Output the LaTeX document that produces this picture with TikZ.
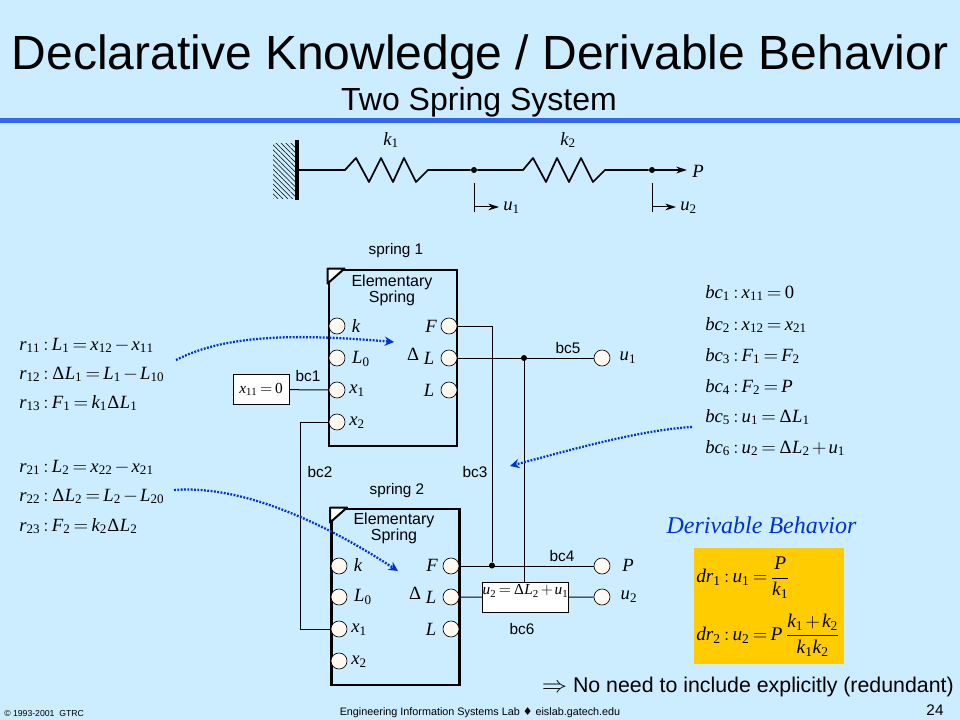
\documentclass[tikz,border=0pt]{standalone}
\usepackage{amsmath}
\usepackage{mathspec}
\setmainfont{Liberation Sans}
\setmathfont(Digits,Latin,Greek){Liberation Serif}
\newfontfamily\serifit{Liberation Serif}
\newfontfamily\symfont{DejaVu Sans}
\thickmuskip=3mu
\medmuskip=2mu
\usetikzlibrary{patterns.meta}
\usetikzlibrary{arrows.meta}
\usetikzlibrary{positioning}
\definecolor{slidebg}{HTML}{CCECFF}
\definecolor{rulecol}{HTML}{3366EE}
\definecolor{pointcol}{HTML}{0033CC}
\definecolor{portcol}{HTML}{FFF9F0}
\definecolor{gold}{HTML}{FFCC00}
\tikzset{
  sbox/.style={draw, line width=2.2pt, minimum width=96pt, minimum height=132pt, inner sep=0pt},
  port/.style={draw, shape=circle, fill=portcol, line width=0.5pt, minimum size=12pt, inner sep=0pt},
  jdot/.style={shape=circle, fill=black, minimum size=4.5pt, inner sep=0pt},
  wire/.style={line width=0.75pt},
  rod/.style={line width=1.3pt},
  hint/.style={line width=1.7pt, pointcol, dash pattern=on 1.4pt off 1.1pt, -{Stealth[length=7pt,width=7pt]}},
  lbl/.style={inner sep=0pt, font=\fontsize{11.5}{13}\selectfont},
  sym/.style={inner sep=0pt, font=\fontsize{14}{16}\selectfont},
  eqn/.style={inner sep=0pt, anchor=base west, font=\fontsize{14}{16}\selectfont},
  eqbox/.style={draw, fill=white, line width=0.6pt, inner sep=0pt},
}
\begin{document}
\begin{tikzpicture}[x=0.75pt,y=-0.75pt,>={Stealth[length=8pt,width=5pt]}]
      \fill[slidebg] (0, 0) rectangle (960, 720);
      \useasboundingbox (0, 0) rectangle (960, 720);
      \fill[rulecol] (0, 118) rectangle (960, 123);

      \node[inner sep=0pt, font=\fontsize{36}{40}\selectfont] (title) at (480, 57)  {Declarative Knowledge / Derivable Behavior};
      \node[inner sep=0pt, font=\fontsize{24}{28}\selectfont] (subtitle) at (479, 102)  {Two Spring System};

      \fill[pattern={Lines[angle=-45, distance=2.6pt, line width=0.4pt]}] (273, 144) rectangle (295, 199);
      \draw[line width=2.6pt] (297, 140) coordinate (wallT) -- (297, 200) coordinate (wallB);
      \coordinate (wall) at (297, 170);
      \node[jdot] (n1) at (474, 170)  {};
      \node[jdot] (n2) at (652, 170)  {};
      \coordinate (tipP) at (687, 170);
      \draw[rod, line join=round] (wall) -- (345, 170) -- (356, 158) -- (369, 182) -- (381, 158) -- (393, 182) -- (404, 158) -- (416, 182) -- (428, 170) -- (n1);
      \draw[rod, line join=round] (n1) -- (523, 170) -- (533, 158) -- (546, 182) -- (557, 158) -- (569, 182) -- (581, 158) -- (593, 182) -- (605, 170) -- (n2);
      \draw[rod, ->] (n2) -- (tipP);
      \node[sym] (k1) at (391, 140)  {$k_1$};
      \node[sym] (k2) at (568, 140)  {$k_2$};
      \node[sym, anchor=west] (Ptop) at (692, 171)  {$P$};
      \coordinate (t1a) at (474, 183);
      \coordinate (t1b) at (474, 212);
      \coordinate (t1c) at (474, 207);
      \coordinate (t2a) at (652, 183);
      \coordinate (t2b) at (652, 212);
      \coordinate (t2c) at (652, 207);
      \node[sym, anchor=west] (u1top) at (503, 208)  {$u_{\mathit{1}}$};
      \node[sym, anchor=west] (u2top) at (680, 208)  {$u_2$};
      \draw[wire] (t1a) -- (t1b);
      \draw[wire] (t2a) -- (t2b);
      \draw[wire, ->, shorten >=3pt] (t1c) -- (u1top.west |- t1c);
      \draw[wire, ->, shorten >=3pt] (t2c) -- (u2top.west |- t2c);

      \node[sbox] (spr1) at (393, 358)  {};
      \node[sbox] (spr2) at (395.5, 597)  {};
      \filldraw[fill=white, line width=1.5pt, line join=round] (spr1.north west) -- ++(17, 0) -- ++(-17, 15) -- cycle;
      \filldraw[fill=white, line width=1.5pt, line join=round] (spr2.north west) -- ++(17, 0) -- ++(-17, 15) -- cycle;

      \node[lbl] (name1) at (396, 251)  {spring 1};
      \node[lbl] (name2) at (397, 491)  {spring 2};
      \node[lbl, align=center, font=\fontsize{12}{12}\selectfont] (es1) at (392, 290)  {Elementary\\Spring};
      \node[lbl, align=center, font=\fontsize{12}{12}\selectfont] (es2) at (394, 528)  {Elementary\\Spring};

      \node[port] (a1) at (337, 326)  {};
      \node[port] (a2) at (337, 358)  {};
      \node[port] (a3) at (337, 390)  {};
      \node[port] (a4) at (337, 422)  {};
      \node[port] (a5) at (449, 326)  {};
      \node[port] (a6) at (449, 358)  {};
      \node[port] (a7) at (449, 390)  {};
      \node[port] (b1) at (339, 566)  {};
      \node[port] (b2) at (339, 597)  {};
      \node[port] (b3) at (339, 629)  {};
      \node[port] (b4) at (339, 661)  {};
      \node[port] (b5) at (451, 566)  {};
      \node[port] (b6) at (451, 597)  {};
      \node[port] (b7) at (451, 629)  {};
      \node[port] (outU1) at (602, 358)  {};
      \node[port] (outP) at (602, 566)  {};
      \node[port] (outU2) at (602, 597)  {};

      \node[sym] (lk1) at (356, 326)  {$k$};
      \node[sym] (lL1) at (361, 359)  {$L_{\mathit{0}}$};
      \node[sym] (lx1) at (357, 391)  {$x_{\mathit{1}}$};
      \node[sym] (ly1) at (357, 423)  {$x_2$};
      \node[sym] (lF1) at (431, 326)  {$F$};
      \node[sym] (lD1) at (413, 354)  {$\Delta$};
      \node[sym] (lM1) at (429, 358)  {$L$};
      \node[sym] (lN1) at (429, 390)  {$L$};
      \node[sym] (lk2) at (358, 565)  {$k$};
      \node[sym] (lL2) at (363, 597)  {$L_{\mathit{0}}$};
      \node[sym] (lx2) at (359, 630)  {$x_{\mathit{1}}$};
      \node[sym] (ly2) at (359, 662)  {$x_2$};
      \node[sym] (lF2) at (432, 565)  {$F$};
      \node[sym] (lD2) at (415, 593)  {$\Delta$};
      \node[sym] (lM2) at (431, 597)  {$L$};
      \node[sym] (lN2) at (431, 629)  {$L$};
      \node[sym] (lU1) at (628, 358)  {$u_{\mathit{1}}$};
      \node[sym] (lP) at (628, 565)  {$P$};
      \node[sym] (lU2) at (629, 597)  {$u_2$};

      \node[eqbox, minimum width=42pt, minimum height=23pt, font=\fontsize{11.5}{13}\selectfont] (fix) at (261, 389.5)  {$x_{11}=0$};
      \node[eqbox, minimum width=65pt, minimum height=22.5pt, anchor=north, text depth=13pt, text height=9pt, font=\fontsize{11.5}{13}\selectfont] (u2box) at (525.5, 582)  {$u_2=\Delta L_2+u_1$};

      \node[jdot] (j1) at (524, 358)  {};
      \node[jdot] (j2) at (492, 565.5)  {};

      \draw[wire] (fix) -- (a3);
      \draw[wire] (a4.west) -- (300, 422) -- (300, 629) -- (b3.west);
      \draw[wire] (a5.east) -- (492, 326) -- (j2);
      \draw[wire] (a6.east) -- (outU1);
      \draw[wire] (j1) -- (u2box.north -| j1);
      \draw[wire] (b5.east) -- (outP);
      \draw[wire] (b6.east) -- (u2box);
      \draw[wire] (u2box) -- (outU2);

      \node[lbl] (bc1) at (308, 376)  {bc1};
      \node[lbl] (bc2) at (320, 472)  {bc2};
      \node[lbl] (bc3) at (475, 472)  {bc3};
      \node[lbl] (bc4) at (562, 556)  {bc4};
      \node[lbl] (bc5) at (568, 348)  {bc5};
      \node[lbl] (bc6) at (522, 629)  {bc6};

      \node[eqn] (r11) at (19, 350)  {$r_{11}:L_1=x_{12}-x_{11}$};
      \node[eqn] (r12) at (19, 379)  {$r_{12}:\Delta L_1=L_1-L_{10}$};
      \node[eqn] (r13) at (19, 408)  {$r_{13}:F_1=k_1\Delta L_1$};
      \node[eqn] (r21) at (19, 472)  {$r_{21}:L_2=x_{22}-x_{21}$};
      \node[eqn] (r22) at (19, 501)  {$r_{22}:\Delta L_2=L_2-L_{20}$};
      \node[eqn] (r23) at (19, 531)  {$r_{23}:F_2=k_2\Delta L_2$};

      \node[eqn] (c1) at (705, 298)  {$bc_1:x_{11}=0$};
      \node[eqn] (c2) at (705, 330)  {$bc_2:x_{12}=x_{21}$};
      \node[eqn] (c3) at (705, 361)  {$bc_3:F_1=F_2$};
      \node[eqn] (c4) at (705, 392)  {$bc_4:F_2=P$};
      \node[eqn] (c5) at (705, 422)  {$bc_5:u_1=\Delta L_1$};
      \node[eqn] (c6) at (705, 453)  {$bc_6:u_2=\Delta L_2+u_1$};

      \coordinate (h1a) at (176, 360);
      \coordinate (h1b) at (394, 342);
      \coordinate (h2a) at (174, 490);
      \coordinate (h2b) at (398, 571);
      \coordinate (h3a) at (692, 427);
      \coordinate (h3b) at (510, 466);
      \draw[hint] (h1a) .. controls (230, 332) and (310, 335) .. (h1b);
      \draw[hint] (h2a) .. controls (240, 485) and (320, 520) .. (h2b);
      \draw[hint] (h3a) .. controls (640, 430) and (570, 450) .. (h3b);

      \node[inner sep=0pt, text=pointcol, font=\fontsize{18}{20}\serifit\itshape] (derive) at (761.5, 525)  {Derivable Behavior};
      \node[fill=gold, inner sep=0pt, minimum width=112.5pt, minimum height=87pt] (gbox) at (769, 606)  {};
      \node[inner sep=0pt, anchor=west, font=\fontsize{14.5}{16}\selectfont] (dr1) at (696, 578)  {$dr_1:u_1=\dfrac{P}{k_1}$};
      \node[inner sep=0pt, anchor=west, font=\fontsize{14.5}{16}\selectfont] (dr2) at (696, 635)  {$dr_2:u_2=P\,\dfrac{k_1+k_2}{k_1k_2}$};

      \node[inner sep=0pt, anchor=east, font=\fontsize{16}{18}\selectfont] (note) at (954, 687)  {\scalebox{1.1}[1]{$\Rightarrow$} No need to include explicitly (redundant)};

      \node[inner sep=0pt, anchor=west, font=\fontsize{6.5}{8}\selectfont] (copy) at (4, 714)  {© 1993-2001\ \ GTRC};
      \node[inner sep=0pt, font=\fontsize{8.1}{10}\selectfont] (lab) at (480, 713)  {Engineering Information Systems Lab {\symfont ♦} eislab.gatech.edu};
      \node[inner sep=0pt, font=\fontsize{11.5}{13}\selectfont] (pg) at (935, 710)  {24};
    \end{tikzpicture}
\end{document}
